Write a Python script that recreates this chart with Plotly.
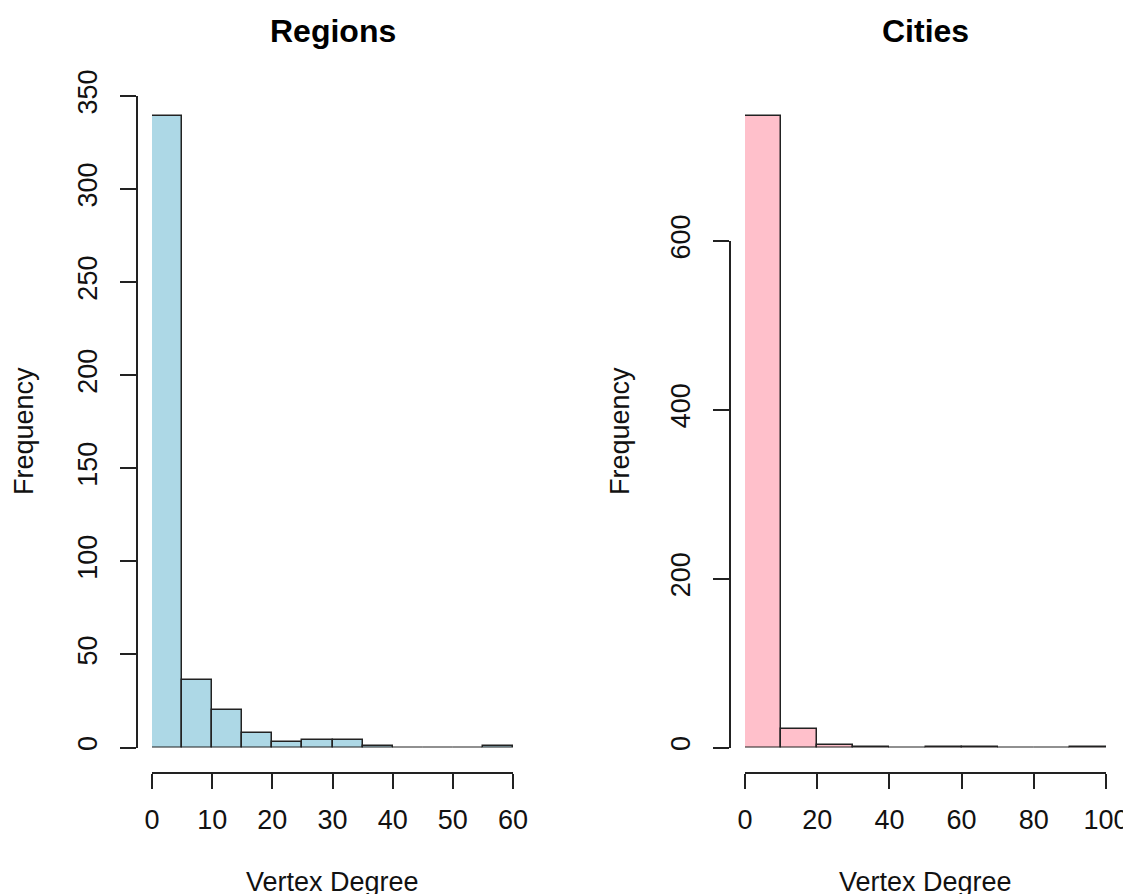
import numpy as np
import plotly.graph_objects as go

# ---- data ----
regions_edges = [0, 5, 10, 15, 20, 25, 30, 35, 40, 45, 50, 55, 60]
regions_counts = [339, 36, 20, 8, 3, 4, 4, 1, 0, 0, 0, 1]
cities_edges = [0, 10, 20, 30, 40, 50, 60, 70, 80, 90, 100]
cities_counts = [748, 22, 3, 1, 0, 1, 1, 0, 0, 1]
regions_yticks = [0, 50, 100, 150, 200, 250, 300, 350]
regions_xticks = [0, 10, 20, 30, 40, 50, 60]
cities_yticks = [0, 200, 400, 600]
cities_xticks = [0, 20, 40, 60, 80, 100]

OFF = 8  # page body margin
W, H = 1131 - 2 * OFF, 894 - OFF
FONT = "Liberation Sans, Arial, sans-serif"
LINE = "#222222"


def px_x(p):
    return (p - OFF) / W


def px_y(p):
    return 1 - (p - OFF) / H


def bins(edges):
    e = np.asarray(edges, dtype=float)
    return (e[:-1] + e[1:]) / 2, np.diff(e)


rc, rw = bins(regions_edges)
cc, cw = bins(cities_edges)

# pixel layout of the two panels
Y0, YTOP = 747.5, 96          # baseline and top of plotting region
CITY_AXIS_TOP = 241           # where the last city tick (600) sits
city_top_value = cities_yticks[-1] * (Y0 - YTOP) / (Y0 - CITY_AXIS_TOP)

fig = go.Figure()
# transparent copy of the Cities data: only carries the visible tick axis (y3)
fig.add_trace(go.Bar(x=cc, y=cities_counts, width=cw, xaxis="x2", yaxis="y3",
                     marker=dict(color="rgba(0,0,0,0)", line=dict(width=0)),
                     opacity=0, hoverinfo="skip", showlegend=False))
fig.add_trace(go.Bar(x=rc, y=regions_counts, width=rw, xaxis="x", yaxis="y",
                     marker=dict(color="#ADD8E6", line=dict(color=LINE, width=1.5)),
                     showlegend=False))
fig.add_trace(go.Bar(x=cc, y=cities_counts, width=cw, xaxis="x2", yaxis="y2",
                     marker=dict(color="#FFC0CB", line=dict(color=LINE, width=1.5)),
                     showlegend=False))

tickfont = dict(family=FONT, size=27, color="#111111")
common = dict(showline=True, linecolor=LINE, linewidth=1.5, ticks="outside",
              tickcolor=LINE, tickwidth=1.5, showgrid=False, zeroline=False,
              tickfont=tickfont, anchor="free", fixedrange=True, automargin=False,
              ticklabeloverflow="allow")

fig.update_layout(
    width=W, height=H,
    autosize=False,
    margin=dict(l=0, r=0, t=0, b=0, pad=0, autoexpand=False),
    paper_bgcolor="white", plot_bgcolor="rgba(0,0,0,0)",
    xaxis=dict(domain=[px_x(152), px_x(513)], range=[0, 60], tickvals=regions_xticks,
               position=px_y(773), ticklen=15, ticklabelstandoff=8, **common),
    yaxis=dict(domain=[px_y(Y0), px_y(YTOP)], range=[0, 350], tickvals=regions_yticks,
               position=px_x(136.5), ticklen=16, tickangle=-90, ticklabelstandoff=12, **common),
    xaxis2=dict(domain=[px_x(745), px_x(1106)], range=[0, 100], tickvals=cities_xticks,
                position=px_y(773), ticklen=15, ticklabelstandoff=8, **common),
    yaxis2=dict(domain=[px_y(Y0), px_y(YTOP)], range=[0, city_top_value], visible=False,
                anchor="x2", fixedrange=True, showgrid=False, zeroline=False),
    yaxis3=dict(domain=[px_y(Y0), px_y(CITY_AXIS_TOP)], range=[0, cities_yticks[-1]],
                tickvals=cities_yticks, position=px_x(730), ticklen=16, tickangle=-90,
                ticklabelstandoff=12, **common),
    bargap=0,
    barmode="overlay",
)

ann_font = dict(family=FONT, size=27, color="#111111")
title_font = dict(family=FONT, size=32, color="#000000", weight="bold")
annotations = [
    dict(text="Regions", x=px_x(332.5), y=px_y(31), font=title_font),
    dict(text="Cities", x=px_x(925.5), y=px_y(31), font=title_font),
    dict(text="Vertex Degree", x=px_x(332.5), y=px_y(882), font=ann_font),
    dict(text="Vertex Degree", x=px_x(925.5), y=px_y(882), font=ann_font),
    dict(text="Frequency", x=px_x(24), y=px_y(431), font=ann_font, textangle=-90),
    dict(text="Frequency", x=px_x(620), y=px_y(431), font=ann_font, textangle=-90),
]
for a in annotations:
    a.update(xref="paper", yref="paper", showarrow=False, xanchor="center", yanchor="middle")
fig.update_layout(annotations=annotations)

fig.write_html("out.html")
